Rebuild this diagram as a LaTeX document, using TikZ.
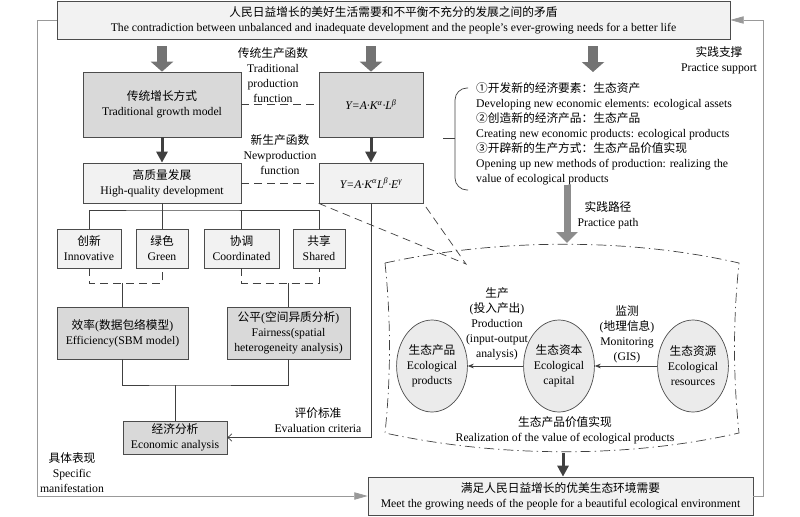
\documentclass[tikz,border=0pt]{standalone}
\usepackage{fontspec}
\setmainfont{Liberation Serif}
\newfontfamily\cjk{Noto Sans CJK SC}
\usetikzlibrary{arrows.meta,%
                shapes.geometric}
\newcommand{\zh}[1]{{\cjk #1}}
\tikzstyle{lbox}=[rectangle, draw=black!70, line width=0.6pt, fill=black!5, align=center, inner sep=1pt, font=\fontsize{10}{12.8}\selectfont]
\tikzstyle{dbox}=[lbox, fill=black!15]
\tikzstyle{formula}=[font=\fontsize{10}{12}\selectfont\itshape]
\tikzstyle{eco}=[ellipse, draw=black!70, line width=0.6pt, fill=black!8, align=center, inner sep=0pt, minimum width=18.9mm, minimum height=27.6mm, font=\fontsize{10}{12.8}\selectfont]
\tikzstyle{lbl}=[align=center, inner sep=0pt, font=\fontsize{10}{12.8}\selectfont]
\tikzstyle{link}=[draw=black!75, line width=0.6pt]
\tikzstyle{dline}=[link, dash pattern=on 2.4mm off 1.5mm]
\tikzstyle{zone}=[link, dash pattern=on 3mm off 1.2mm on 0.4mm off 1.2mm]
\tikzstyle{garrow}=[draw=black!55, line width=3mm, -{Triangle[length=3mm,width=6.6mm]}]
\tikzstyle{parrow}=[draw=black!45, line width=2.1mm, -{Triangle[length=3.3mm,width=6.3mm]}]
\tikzstyle{barrow}=[draw=black!75, line width=0.9mm, -{Triangle[length=3.3mm,width=3.3mm]}]
\tikzstyle{frame}=[draw=black!40, line width=0.6pt, -{Triangle[length=4mm,width=2.2mm]}]

\begin{document}
\begin{tikzpicture}[x=0.3mm,y=-0.3mm]
  \useasboundingbox (0,0) rectangle (800,516);
  % boxes
  \node[lbox, minimum width=201.9mm, minimum height=11.4mm] (top) at (393.5,20) {\zh{人民日益增长的美好生活需要和不平衡不充分的发展之间的矛盾}\\The contradiction between unbalanced and inadequate development and the people’s ever-growing needs for a better life};
  \node[dbox, minimum width=47.4mm, minimum height=19.5mm] (trad) at (162,104.5) {\zh{传统增长方式}\\Traditional growth model};
  \node[dbox, formula, minimum width=31.2mm, minimum height=19.5mm] (ytrad) at (371,104.5) {Y=A·K\textsuperscript{α}·L\textsuperscript{β}};
  \node[lbox, minimum width=47.4mm, minimum height=12mm] (hq) at (162,183) {\zh{高质量发展}\\High-quality development};
  \node[lbox, formula, minimum width=31.2mm, minimum height=12mm] (ynew) at (371,183) {Y=A·K\textsuperscript{α}L\textsuperscript{β}·E\textsuperscript{γ}};
  \node[lbox, minimum width=19.2mm, minimum height=11.7mm] (inno) at (89,248.5) {\zh{创新}\\Innovative};
  \node[lbox, minimum width=15.6mm, minimum height=11.7mm] (green) at (162,248.5) {\zh{绿色}\\Green};
  \node[lbox, minimum width=22.5mm, minimum height=11.7mm] (coord) at (241.5,248.5) {\zh{协调}\\Coordinated};
  \node[lbox, minimum width=15.6mm, minimum height=11.7mm] (share) at (319,248.5) {\zh{共享}\\Shared};
  \node[dbox, minimum width=39.3mm, minimum height=15.6mm] (eff) at (122.5,333) {\zh{效率}(\zh{数据包络模型})\\Efficiency(SBM model)};
  \node[dbox, minimum width=36.9mm, minimum height=15.6mm] (fair) at (288.5,333) {\zh{公平}(\zh{空间异质分析})\\Fairness(spatial\\heterogeneity analysis)};
  \node[dbox, minimum width=31.2mm, minimum height=9.9mm] (econ) at (175,437.5) {\zh{经济分析}\\Economic analysis};
  \node[lbox, minimum width=115.5mm, minimum height=11.4mm] (goal) at (560.5,496) {\zh{满足人民日益增长的优美生态环境需要}\\Meet the growing needs of the people for a beautiful ecological environment};
  \node[eco] (prod) at (432,366) {\zh{生态产品}\\Ecological\\products};
  \node[eco] (capital) at (559,366) {\zh{生态资本}\\Ecological\\capital};
  \node[eco] (resrc) at (693,366) {\zh{生态资源}\\Ecological\\resources};

  % labels
  \node[lbl] (tradlbl) at (273,75) {\zh{传统生产函数}\\Traditional\\production\\function};
  \node[lbl] (newlbl) at (280,155) {\zh{新生产函数}\\Newproduction\\function};
  \node[lbl] (evallbl) at (318,420.5) {\zh{评价标准}\\Evaluation criteria};
  \node[lbl] (speclbl) at (72,472.5) {\zh{具体表现}\\Specific\\manifestation};
  \node[lbl] (supplbl) at (719,60) {\zh{实践支撑}\\Practice support};
  \node[lbl] (pathlbl) at (608,215) {\zh{实践路径}\\Practice path};
  \node[lbl] (prodlbl) at (497,324) {\zh{生产}\\(\zh{投入产出})\\Production\\(input-output\\analysis)};
  \node[lbl] (monlbl) at (627,334) {\zh{监测}\\(\zh{地理信息})\\Monitoring\\(GIS)};
  \node[lbl] (reallbl) at (565,430.5) {\zh{生态产品价值实现}\\Realization of the value of ecological products};
  \node[lbl, align=left, anchor=west] (list) at (476,134) {\zh{①开发新的经济要素：生态资产}\\Developing new economic elements: ecological assets\\\zh{②创造新的经济产品：生态产品}\\Creating new economic products: ecological products\\\zh{③开辟新的生产方式：生态产品价值实现}\\Opening up new methods of production: realizing the\\value of ecological products};

  \coordinate (supp) at (593,72);
  \coordinate (focus) at (466,264);
  \coordinate (ztop) at (567,243);
  \coordinate (zbot) at (563,453);
  \coordinate (split) at (162,210);
  \coordinate (join) at (175,385);

  % practice zone
  \draw[zone] (385,263) .. controls (500,238) and (630,238) .. (739,263)
    .. controls (733,320) and (733,376) .. (739,433)
    .. controls (630,458) and (500,458) .. (385,433)
    .. controls (391,376) and (391,320) .. (385,263);

  % brace
  \draw[link, rounded corners=3.6mm] (468,88) -- (455,88) -- (455,190) -- (468,190);
  \draw[link] (443,138) -- (455,138);

  % arrows
  \draw[garrow, shorten <=2.1mm] (top.south -| trad.north) -- (trad.north);
  \draw[garrow, shorten <=2.1mm] (top.south -| ytrad.north) -- (ytrad.north);
  \draw[garrow, shorten <=2.1mm] (top.south -| supp) -- (supp);
  \draw[parrow] (list.south -| ztop) -- (ztop);
  \draw[barrow] (trad) -- (hq);
  \draw[barrow] (ytrad) -- (ynew);
  \draw[barrow] (zbot) -- (goal.north -| zbot);
  \draw[dline] (trad) -- (ytrad);
  \draw[dline] (hq) -- (ynew);
  \draw[dline] (ynew.south west) -- (focus) -- (ynew.south east);

  \draw[link] (hq) -- (green);
  \draw[link] (inno.north) |- (split) -| (share.north);
  \draw[link] (coord.north) -- (coord.north |- split);
  \draw[dline] (inno.south) -- ++(0,15) -| (green.south);
  \draw[dline] (coord.south) -- ++(0,15) -| (share.south);
  \draw[link] (eff.north) -- ++(0,-24);
  \draw[link] (fair.north) -- ++(0,-24);
  \draw[link] (eff.south) |- (join) -| (fair.south);
  \draw[link] (join) -- (econ);
  \draw[link, -{Straight Barb[length=1.2mm,width=2.2mm]}] (ynew.south) |- (econ.east);

  \draw[link, -{Stealth[length=1.8mm,width=1.4mm]}] (resrc) -- (capital);
  \draw[link, -{Stealth[length=1.8mm,width=1.4mm]}] (capital) -- (prod);

  \draw[frame] (top.west) -- ++(-19,0) |- (goal.west);
  \draw[frame] (goal.east) -- ++(10,0) |- (top.east);
\end{tikzpicture}
\end{document}
